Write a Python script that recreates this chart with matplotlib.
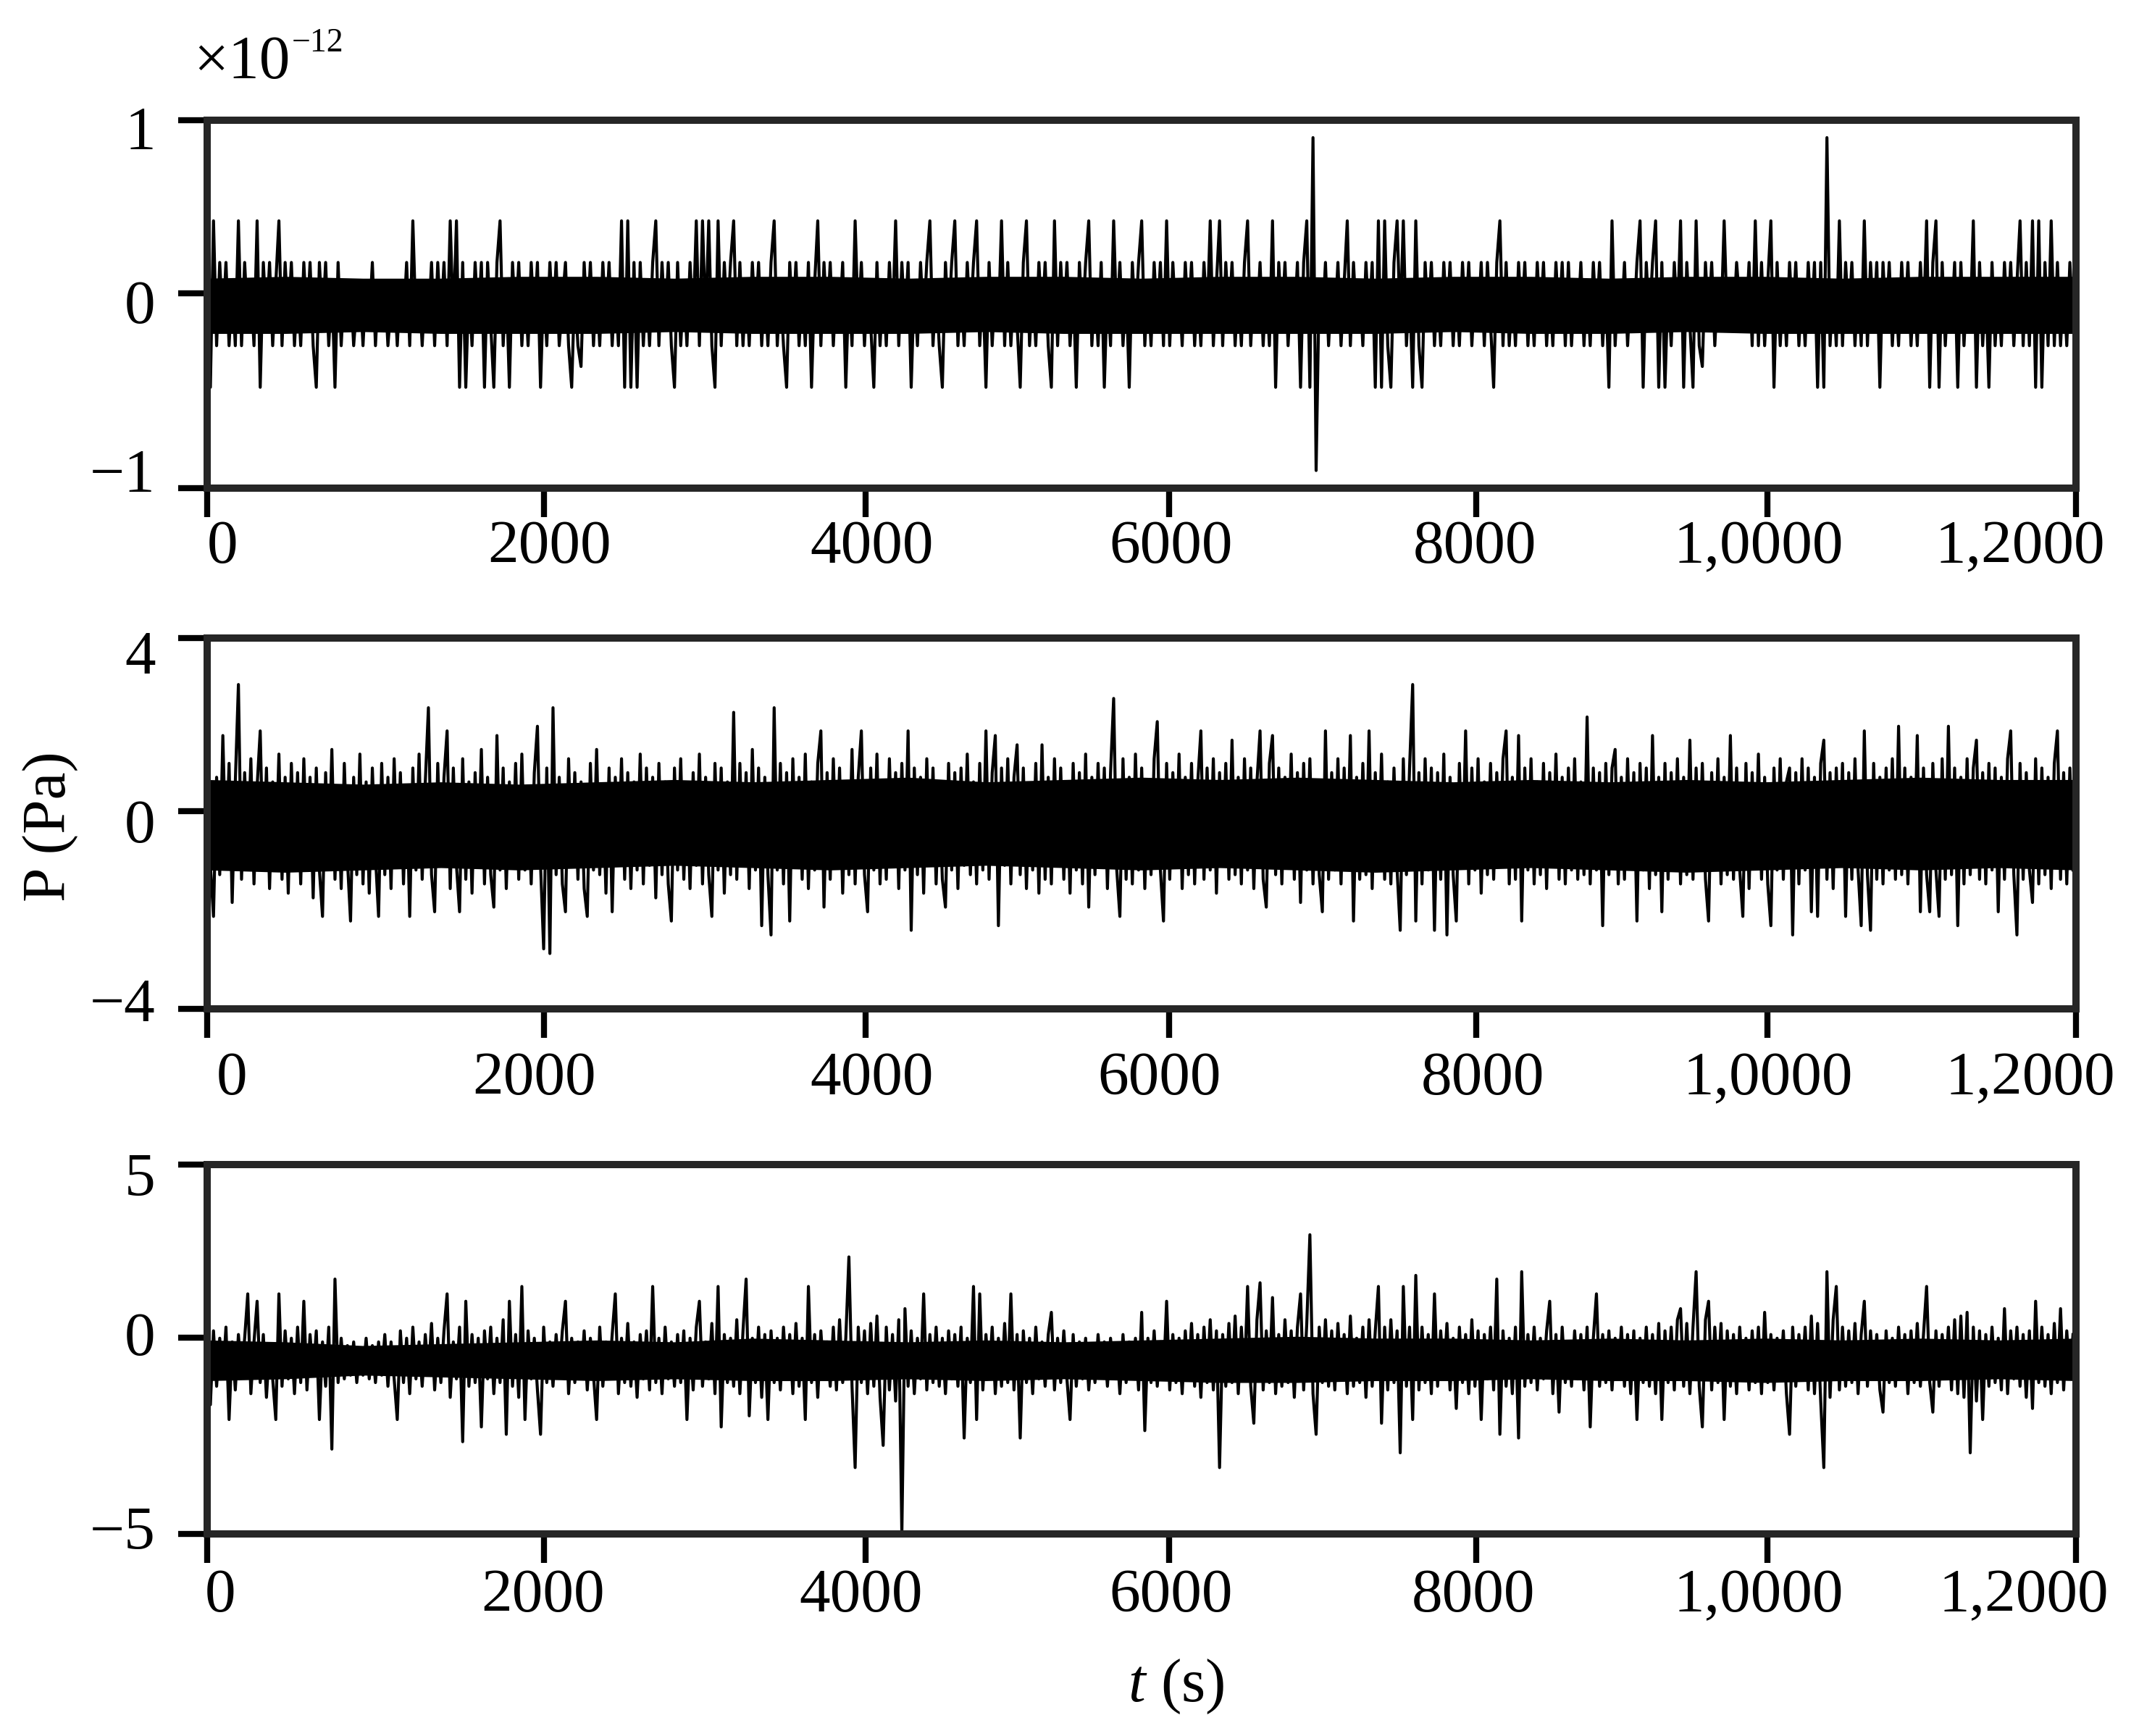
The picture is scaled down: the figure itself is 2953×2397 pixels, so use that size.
import numpy as np
import matplotlib
matplotlib.use("Agg")
import matplotlib.pyplot as plt

plt.rcParams['font.family'] = ['Liberation Serif', 'DejaVu Serif']
plt.rcParams['mathtext.fontset'] = 'custom'
plt.rcParams['mathtext.rm'] = 'Liberation Serif'
plt.rcParams['mathtext.it'] = 'Liberation Serif:italic'

# ---------------- data ----------------
duration_s = 12000

# Panel 1: quantised record, in counts of one quantum (units of 1e-12 Pa)
p1_quantum = 0.113
p1_counts = [
    0,-4,4,-2,2,-1,2,-2,1,-2, 4,-2,2,-1,1,-2,4,-4,2,-1, 2,-2,1,4,-2,2,-1,2,-2,1,
    -2,2,-1,2,-2,-4,2,-1,2,-2, 1,-4,2,-2,1,-1,1,-2,0,1, -2,1,-1,2,-2,1,-1,1,-2,0,
    1,-2,1,-1,2,-2,4,-1,1,-2, 1,-1,2,-2,2,-1,2,-2,4,-1, 4,-4,2,-4,1,-2,2,-1,2,-4,
    2,-1,-4,2,4,-2,1,-4,2,-1, 2,-2,1,-2,2,-1,2,-4,1,-2, 2,-1,2,-2,0,2,-2,-4,1,-2,
    -3,2,-1,2,-2,1,-2,2,-1,2, -2,1,-2,4,-4,4,-4,2,-4,2, -2,1,-2,2,4,-2,2,-1,2,-2,
    -4,2,-2,1,-2,2,-1,4,-2,4, -1,4,-2,-4,4,-2,2,-1,2,4, -2,2,-2,1,-2,2,-1,2,-2,1,
    -2,2,4,-2,1,-2,-4,2,-1,2, -2,1,-2,2,-4,1,4,-2,2,-1, 2,-2,1,-1,2,-4,1,-2,4,-1,
    2,-2,1,-1,-4,2,-2,1,-2,2, -1,4,-2,2,-1,2,-4,1,-2,2, -1,2,4,-2,1,-2,-4,2,-1,2,
    4,-2,1,-2,2,-1,2,4,-2,1, -4,2,-2,1,-1,4,-2,2,-2,1, -1,-4,2,4,-2,1,-2,2,-1,2,
    -2,-4,4,-2,2,-1,2,-2,1,-4, 2,-1,2,4,-2,1,-2,2,-4,1, -2,4,-1,2,-2,1,-4,2,-1,2,
    4,-2,1,-2,2,-1,2,-2,4,-2, 2,-1,1,-2,2,-1,2,-2,1,-2, 2,-1,4,-2,1,4,-2,2,-1,2,
    -2,1,-2,2,4,-2,1,-1,2,-2, 1,-2,4,-4,2,-1,2,-2,1,-1, 2,-4,2,4,-4,8,-8,1,-1,2,
    -2,1,-1,2,-2,1,4,-2,2,-1, 1,-2,2,-1,2,-4,4,-4,4,-2, -4,2,4,-1,4,-2,1,-4,4,-2,
    -4,2,-1,2,-2,1,-2,2,-1,2, -2,1,-2,2,-1,2,-2,1,-1,2, -2,2,-1,-4,2,4,-2,2,-2,1,
    -2,2,-1,2,-2,1,-2,2,-1,2, -2,1,-2,2,-1,2,-2,2,-2,1, -1,2,-2,1,-2,2,-1,2,-2,1,
    -4,4,-2,1,-1,2,-2,1,-1,2, 4,-4,2,-1,2,4,-4,2,-4,1, -2,2,-1,4,-4,2,-1,-4,4,-2,
    -3,2,-1,2,-2,1,-1,4,-1,1, -1,2,0,1,-1,2,-2,4,-2,2, -2,1,4,-4,2,-2,1,-2,2,-1,
    2,-2,1,-2,2,-1,2,-4,2,-4, 8,-2,1,-2,4,-2,2,-1,2,-2, 1,-2,4,-2,2,-1,2,-4,2,-1,
    2,-2,1,-2,2,-1,2,-2,1,-2, 2,-1,4,-4,2,4,-4,2,-2,1, -1,2,-4,2,-2,1,-1,4,-4,2,
    -2,1,-4,2,-2,1,-2,2,-1,2, -2,1,4,-2,2,-2,4,-4,4,-4, 2,-2,4,-2,2,-2,1,-2,2,-1,
]

# Panel 2: pressure (Pa)
p2_values = [
    1.2,-0.9,-2.0,1.0,-1.1,1.9,-0.8,1.3,-1.7,0.9, 3.0,-1.2,1.1,-0.7,1.4,-1.3,0.8,2.0,-1.0,1.2, -1.4,0.9,-0.8,1.5,-1.2,1.0,-1.5,1.3,-0.9,1.1,
    -1.3,1.4,-0.8,1.0,-1.6,1.2,-1.0,-2.0,1.1,-0.9, 1.6,-1.2,0.8,-1.4,1.3,-0.8,-2.1,1.0,-1.1,1.5, -1.3,0.9,-1.5,1.2,-0.7,-2.0,1.3,-1.1,1.0,-1.4,
    1.4,-0.9,1.1,-1.3,0.8,-2.0,1.2,-1.0,1.5,-1.2, 0.9,2.5,-1.1,-1.9,1.3,-0.8,1.0,2.0,-1.4,1.2, -0.9,-1.9,1.4,-1.2,0.9,-1.5,1.1,-0.8,1.6,-1.3,
    1.0,-1.1,-1.8,1.9,-1.0,1.2,-1.4,0.9,-0.8,1.3, -1.2,1.5,-1.0,0.8,-1.3,1.1,2.1,-0.9,-2.7,1.2, -2.8,2.5,-1.1,1.0,-1.3,-1.9,1.4,-0.9,1.1,-1.2,
    0.9,-1.4,-2.0,1.3,-1.0,1.6,-1.1,0.8,-1.5,1.2, -1.9,1.0,-0.8,1.4,-1.2,1.1,-1.4,0.9,-1.0,1.5, -1.3,1.2,-0.9,1.0,-1.6,1.3,-1.1,0.9,-1.3,-2.1,
    1.2,-1.0,1.4,-1.2,0.8,-1.4,1.1,-0.9,1.5,-1.3, 1.0,-1.1,-2.0,1.3,-1.0,1.2,-1.5,0.9,-1.1,2.4, -1.2,1.3,-0.8,1.1,-1.4,1.6,-1.0,1.2,-2.2,1.0,
    -1.1,-2.4,2.5,-1.0,1.3,-1.3,1.1,-2.1,1.4,-0.9, 1.0,-1.2,1.5,-1.4,0.9,-1.0,1.3,2.0,-1.8,1.1, -1.2,1.4,-0.9,1.2,-1.5,0.8,-1.1,1.6,-1.3,1.0,
    2.0,-1.1,-1.9,1.2,-1.0,1.5,-1.3,0.9,-1.2,1.4, -0.8,1.1,-1.4,1.3,-1.0,2.0,-2.3,1.2,-1.1,1.0, -1.5,1.4,-0.9,1.2,-1.3,0.8,-1.2,-1.8,1.3,-1.0,
    1.1,-1.4,1.2,-0.9,1.5,-1.1,0.9,-1.3,1.3,-1.0, 2.0,-1.2,1.1,1.9,-2.2,1.2,-0.9,1.4,-1.3,1.0, 1.7,-1.1,1.2,-1.4,0.8,-1.0,1.3,-1.5,1.7,-1.2,
    1.0,-1.3,1.4,-0.9,1.2,-1.2,0.9,-1.5,1.3,-1.0, 1.1,-1.3,1.5,-1.8,1.0,-1.1,1.3,-0.8,1.2,-1.4, 1.1,2.7,-1.0,-2.0,1.4,-1.2,1.0,-1.3,1.5,-1.0,
    1.2,-1.4,0.9,-1.1,1.4,2.2,-1.0,-2.1,1.3,-1.2, 1.1,-0.9,1.5,-1.4,1.0,-1.1,1.3,-1.3,0.9,2.0, -1.2,1.2,-1.0,1.4,-1.5,1.1,-0.9,1.3,-1.2,1.8,
    -1.1,1.0,-1.3,1.4,-1.0,1.2,-1.4,0.9,2.0,-1.2, -1.8,1.3,1.9,-1.1,1.2,-1.3,1.0,-0.9,1.5,-1.2, 1.1,-1.7,1.3,-1.0,1.4,-1.3,0.9,-1.1,-1.9,2.0,
    -1.2,1.1,-1.0,1.4,-1.3,1.2,-0.9,1.9,-2.1,1.0, -1.2,1.3,-1.1,2.0,-1.4,1.1,-1.0,1.5,-1.2,0.9, -1.3,1.2,-1.0,-2.3,1.4,-1.1,1.2,3.0,-2.1,1.1,
    -1.3,1.4,-1.0,1.2,-2.3,1.1,-1.2,1.5,-2.4,1.0, -1.1,-2.1,1.3,-0.9,2.0,-1.3,1.2,-1.0,1.4,-1.5, 0.9,-1.1,1.3,-1.2,1.1,-0.9,1.4,2.0,-1.3,1.0,
    -1.2,1.9,-2.1,1.2,-1.0,1.4,-1.3,0.9,-1.1,1.3, -1.4,1.1,-0.9,1.5,-1.2,1.0,-1.3,1.2,-1.0,1.4, -1.2,0.9,-1.1,2.3,-1.3,1.2,-1.0,1.1,-2.2,1.3,
    -1.1,1.2,1.6,-1.3,1.0,-1.2,1.4,-0.9,1.1,-2.1, 1.3,-1.0,1.2,-1.4,1.9,-1.1,1.0,-1.9,1.3,-1.2, 1.1,-0.9,1.4,-1.3,1.0,-1.1,1.8,-1.2,1.2,-1.0,
    1.3,-1.2,-2.1,1.1,-0.9,1.4,-1.3,1.0,-1.1,1.9, -1.2,1.2,-1.0,-2.0,1.3,-1.4,1.1,-0.9,1.5,-1.2, 1.0,-1.3,-2.2,1.2,-1.0,1.4,-1.2,0.9,1.2,-2.4,
    1.1,-1.3,1.4,-1.0,1.2,-1.9,1.0,-2.0,1.3,1.8, -1.2,1.1,-1.4,1.2,-0.9,1.3,-2.0,1.1,-1.2,1.4, -1.0,-2.2,2.0,-1.1,-2.3,1.3,-1.2,1.0,-1.3,1.2,
    -1.0,1.4,-1.2,2.1,-1.1,1.2,-1.3,1.0,-0.9,1.9, -1.9,1.2,-1.1,-1.9,1.3,-1.0,-2.0,1.4,-1.2,2.1, -1.1,1.2,-2.2,1.0,-1.3,1.4,-1.1,1.2,1.8,-1.2,
    1.1,-1.3,1.3,-1.0,1.2,-1.9,1.0,-1.2,1.4,2.0, -1.1,-2.4,1.3,-1.2,1.1,-1.0,-1.7,1.4,-1.3,1.2, -1.1,1.0,-1.4,1.3,2.0,-1.2,1.1,-1.3,1.2,-1.0,
]

# Panel 3: pressure (Pa)
p3_values = [
    0.9,-1.5,0.5,-1.0,0.3,-0.8,0.6,-1.9,0.2,-1.1, 0.4,-0.7,0.3,1.5,-1.2,0.2,1.3,-0.9,0.4,-1.3, 0.1,-0.8,-1.9,1.5,-1.0,0.5,-0.8,0.3,-1.2,0.6,
    -0.9,1.3,-1.1,0.4,-0.7,0.5,-1.9,0.2,-1.0,0.6, -2.7,1.9,-0.9,0.3,-0.8,0.1,-0.7,0.2,-0.9,0.0, -0.7,0.3,-0.8,0.1,-0.9,0.2,-0.7,0.4,-1.0,0.2,
    -0.8,-1.9,0.5,-0.9,0.3,-1.2,0.6,-0.8,0.2,-1.0, 0.4,-0.7,0.7,-1.1,0.3,-0.9,0.5,1.5,-1.3,0.2, -0.8,0.6,-2.5,1.3,-1.0,0.4,-0.9,0.3,-2.1,0.5,
    -0.8,0.6,-1.2,0.3,-0.9,0.8,-2.3,1.3,-1.0,0.4, -1.3,1.7,-1.9,0.5,-0.8,0.3,-1.1,-2.3,0.6,-0.9, 0.2,-1.0,0.4,-0.7,0.5,1.3,-1.2,0.3,-0.9,0.2,
    -0.8,0.5,-1.1,0.3,-0.7,-1.9,0.6,-1.0,0.2,-0.8, 0.4,1.5,-1.2,0.3,-0.9,0.7,-1.0,0.2,-1.3,0.4, -0.8,0.5,-1.1,1.7,-0.9,0.3,-1.2,0.6,-0.8,0.2,
    -1.0,0.4,-0.9,0.5,-1.9,0.3,-1.1,0.6,1.3,-1.0, 0.2,-0.8,0.7,-1.2,1.7,-2.1,0.4,-0.9,0.3,-1.0, 0.8,-1.2,0.5,1.9,-1.8,0.3,-0.9,0.6,-1.3,0.4,
    -1.9,0.5,-0.9,0.3,-1.1,0.6,-0.8,0.4,-1.2,0.7, -1.0,0.3,-1.9,1.7,-0.9,0.4,-1.3,0.5,-0.8,0.2, -1.0,0.6,-1.1,0.8,-0.9,0.3,2.5,-1.0,-3.2,0.6,
    -0.9,0.5,-1.2,0.7,-1.0,0.9,-1.3,-2.6,0.6,-1.1, 0.4,-1.4,0.8,-5.0,1.1,-1.0,0.5,-1.2,0.3,-0.8, 1.5,-1.1,0.4,-0.9,0.6,-1.0,0.3,-1.2,0.5,-0.8,
    0.4,-1.0,0.6,-2.4,0.3,-0.9,1.7,-1.9,1.5,-1.1, 0.4,-0.8,0.6,-1.2,0.3,-1.0,0.7,-0.9,1.5,-1.1, 0.4,-2.4,0.5,-0.9,0.3,-1.2,0.6,-0.8,0.2,-1.0,
    0.4,1.0,-1.1,0.3,-0.9,0.5,-0.8,-1.9,0.4,-1.0, 0.2,-0.8,0.3,-1.1,0.1,-0.9,0.4,-0.7,0.2,-1.0, 0.3,-0.8,0.1,-1.2,0.4,-0.9,0.2,-0.8,0.3,-1.1,
    1.0,-2.2,0.3,-0.9,0.5,-1.0,0.2,-0.8,1.3,-1.1, 0.4,-0.9,0.3,-1.2,0.5,-0.8,0.7,-1.0,0.4,-1.3, 0.6,-0.9,0.8,-1.1,0.5,-3.2,0.4,-1.0,0.7,-0.9,
    0.9,-1.2,0.6,-0.8,1.7,-1.0,-2.0,0.8,1.8,-1.1, 0.5,-0.9,1.4,-1.2,0.4,-1.0,0.8,-0.9,0.5,-1.3, 0.6,1.5,-1.1,0.7,3.1,-1.2,-2.3,0.6,-0.9,0.8,
    -1.0,0.5,-1.1,0.7,-0.8,0.4,-1.2,0.9,-1.0,0.3, -0.9,0.6,-1.3,0.8,-1.0,0.5,1.7,-2.0,0.6,-1.1, 0.8,-0.9,0.5,-2.8,1.7,-1.0,0.6,-1.9,2.0,-1.1,
    0.6,-0.9,0.4,-1.2,1.5,-1.0,0.5,-0.8,0.7,-1.1, 0.3,-1.6,0.6,-0.9,0.4,-1.2,0.8,-1.0,0.5,-1.9, 0.4,-0.8,0.6,-1.1,1.9,-2.3,0.5,-1.0,0.3,-1.2,
    0.6,-2.4,2.1,-1.0,0.4,-0.9,0.6,-1.1,0.3,-0.8, 0.5,1.3,-1.2,0.4,-1.7,0.6,-0.9,0.2,-1.0,0.5, -0.8,0.4,-1.1,0.6,-2.1,0.3,1.5,-1.0,0.4,-0.9,
    0.5,-1.1,0.3,-0.8,0.6,-1.0,0.4,-1.2,0.5,-1.9, 0.3,-0.9,0.6,-1.0,0.4,-1.2,0.7,-1.9,0.5,-0.9, 0.6,-1.1,0.8,1.1,-1.0,0.7,-1.2,0.6,2.1,-1.0,
    -2.1,0.8,1.3,-1.1,0.6,-0.9,0.7,-1.9,0.5,-1.0, 0.4,-1.2,0.6,-0.8,0.3,-1.1,0.5,-0.9,0.6,-1.2, 1.0,-0.9,0.4,-1.1,0.3,-0.8,0.5,-1.2,-2.3,0.6,
    -1.0,0.4,-0.8,0.6,-1.1,0.9,-1.2,0.7,-1.4,-3.2, 2.1,-1.3,0.8,1.7,-1.1,0.6,-1.0,0.5,-0.9,0.7, -1.2,0.4,1.3,-1.0,0.5,-0.8,0.4,-1.1,-1.7,0.5,
    -0.9,0.3,-1.0,0.6,-0.8,0.4,-1.2,0.5,-0.9,0.7, -1.0,0.4,1.7,-0.9,-1.7,0.5,-1.0,0.4,-0.8,0.6, -1.1,0.8,-1.2,0.9,-1.3,1.0,-2.8,0.6,-1.4,0.5,
    -1.9,0.4,-1.0,0.6,-0.9,0.3,-1.1,1.1,-1.2,0.5, -0.8,0.6,-1.0,0.4,-1.3,0.5,-1.6,1.3,-0.9,0.6, -1.0,0.4,-1.2,0.7,-0.9,1.1,-1.1,0.5,-0.8,0.4,
]

# solid (saturated) core of each trace, read at 500 s steps
core_t = [0, 500, 1000, 1500, 2000, 2500, 3000, 3500, 4000, 4500, 5000, 5500, 6000,
          6500, 7000, 7500, 8000, 8500, 9000, 9500, 10000, 10500, 11000, 11500, 12000]
p1_core_upper = [0.14, 0.15, 0.14, 0.14, 0.15, 0.15, 0.14, 0.15, 0.15, 0.14, 0.15, 0.15, 0.14,
                 0.15, 0.15, 0.14, 0.15, 0.15, 0.14, 0.15, 0.15, 0.14, 0.15, 0.15, 0.15]
p1_core_lower = [-0.16, -0.16, -0.15, -0.16, -0.16, -0.16, -0.15, -0.16, -0.16, -0.16, -0.15, -0.16, -0.16,
                 -0.16, -0.16, -0.16, -0.15, -0.16, -0.16, -0.15, -0.16, -0.16, -0.16, -0.16, -0.16]
p2_core_upper = [0.95, 0.9, 0.85, 0.9, 0.85, 0.9, 0.95, 0.9, 0.95, 1.0, 0.9, 0.95, 1.0,
                 0.95, 1.0, 0.95, 0.9, 0.95, 0.9, 0.95, 0.9, 0.95, 1.0, 0.95, 0.95]
p2_core_lower = [-1.0, -1.05, -1.0, -0.95, -1.0, -0.95, -0.9, -0.95, -1.0, -0.95, -0.9, -0.95, -1.0,
                 -0.95, -1.0, -1.05, -1.0, -0.95, -1.0, -1.05, -1.0, -0.95, -1.0, -0.95, -1.0]
p3_core_upper = [0.25, 0.2, 0.1, 0.15, 0.2, 0.25, 0.2, 0.3, 0.25, 0.2, 0.25, 0.2, 0.25,
                 0.3, 0.35, 0.3, 0.3, 0.25, 0.3, 0.25, 0.3, 0.25, 0.3, 0.25, 0.3]
p3_core_lower = [-0.85, -0.8, -0.7, -0.75, -0.8, -0.85, -0.8, -0.85, -0.85, -0.8, -0.85, -0.8, -0.85,
                 -0.9, -0.9, -0.85, -0.85, -0.8, -0.85, -0.85, -0.9, -0.85, -0.85, -0.8, -0.85]

# axis tick marks as drawn in the reference (the drawn axis is not evenly spaced)
xtick_pos = [0, 2164, 4228, 6176, 8149, 10018, 12000]
xtick_labels = ['0', '2000', '4000', '6000', '8000', '1,0000', '1,2000']

p1_ylim = (-1, 1)
p2_ylim = (-4, 4)
p3_ylim = (-5, 5)
p1_ylabels = ['\u22121', '0', '1']
p2_ylabels = ['\u22124', '0', '4']
p3_ylabels = ['\u22125', '0', '5']

# ---------------- layout ----------------
FS = 20.5
mid_tick_frac = [0.5296, 0.533, 0.531]
axes_rects = [(0.0969, 0.7188, 0.8737, 0.2121),
              (0.0969, 0.4187, 0.8737, 0.2137),
              (0.0969, 0.1163, 0.8737, 0.2129)]
xlabel_fx = [[0.008, 0.183, 0.3555, 0.5155, 0.6783, 0.830, 0.970],
             [0.013, 0.175, 0.3555, 0.5096, 0.6826, 0.8353, 0.9755],
             [0.007, 0.1796, 0.3497, 0.5155, 0.6775, 0.830, 0.9718]]
xlabel_fy = [-0.162, -0.19, -0.17]
ylabel_fy = [[0.030, 0.489, 0.961],
             [0.007, 0.489, 0.945],
             [0.0, 0.524, 0.956]]

fig = plt.figure(figsize=(2953 / 300, 2397 / 300), dpi=300)

series = [np.array(p1_counts) * p1_quantum, np.array(p2_values), np.array(p3_values)]
cores = [(p1_core_lower, p1_core_upper), (p2_core_lower, p2_core_upper),
         (p3_core_lower, p3_core_upper)]
ylims = [p1_ylim, p2_ylim, p3_ylim]
ylabs = [p1_ylabels, p2_ylabels, p3_ylabels]

for k in range(3):
    ax = fig.add_axes(axes_rects[k])
    y = series[k]
    t = np.arange(len(y)) * duration_s / len(y)
    ax.fill_between(core_t, cores[k][0], cores[k][1], color='black', lw=0)
    ax.plot(t, y, color='black', lw=1.0)
    ax.set_xlim(0, duration_s)
    lo, hi = ylims[k]
    ax.set_ylim(lo, hi)
    ax.set_xticks(xtick_pos)
    ax.set_xticklabels([])
    ax.set_yticks([lo, lo + (hi - lo) * mid_tick_frac[k], hi])
    ax.set_yticklabels([])
    ax.tick_params(direction='out', length=9.5, width=2.0, color='black')
    for s in ax.spines.values():
        s.set_linewidth(2.4)
        s.set_color('#262626')
    for fx, lab in zip(xlabel_fx[k], xtick_labels):
        ax.text(fx, xlabel_fy[k], lab, transform=ax.transAxes, ha='center',
                va='center', fontsize=FS)
    for fy, lab in zip(ylabel_fy[k], ylabs[k]):
        ax.text(-0.0277, fy, lab, transform=ax.transAxes, ha='right',
                va='center', fontsize=FS)

fig.text(0.0906, 0.955, '\u00d710', ha='left', va='baseline', fontsize=FS)
fig.text(0.1365, 0.9704, '\u221212', ha='left', va='baseline', fontsize=11)
fig.text(0.0236, 0.524, 'P (Pa)', rotation=90, ha='center', va='center', fontsize=FS)
fig.text(0.5497, 0.0283, '$t$ (s)', ha='center', va='center', fontsize=FS)

fig.savefig('out.png', dpi=300)
